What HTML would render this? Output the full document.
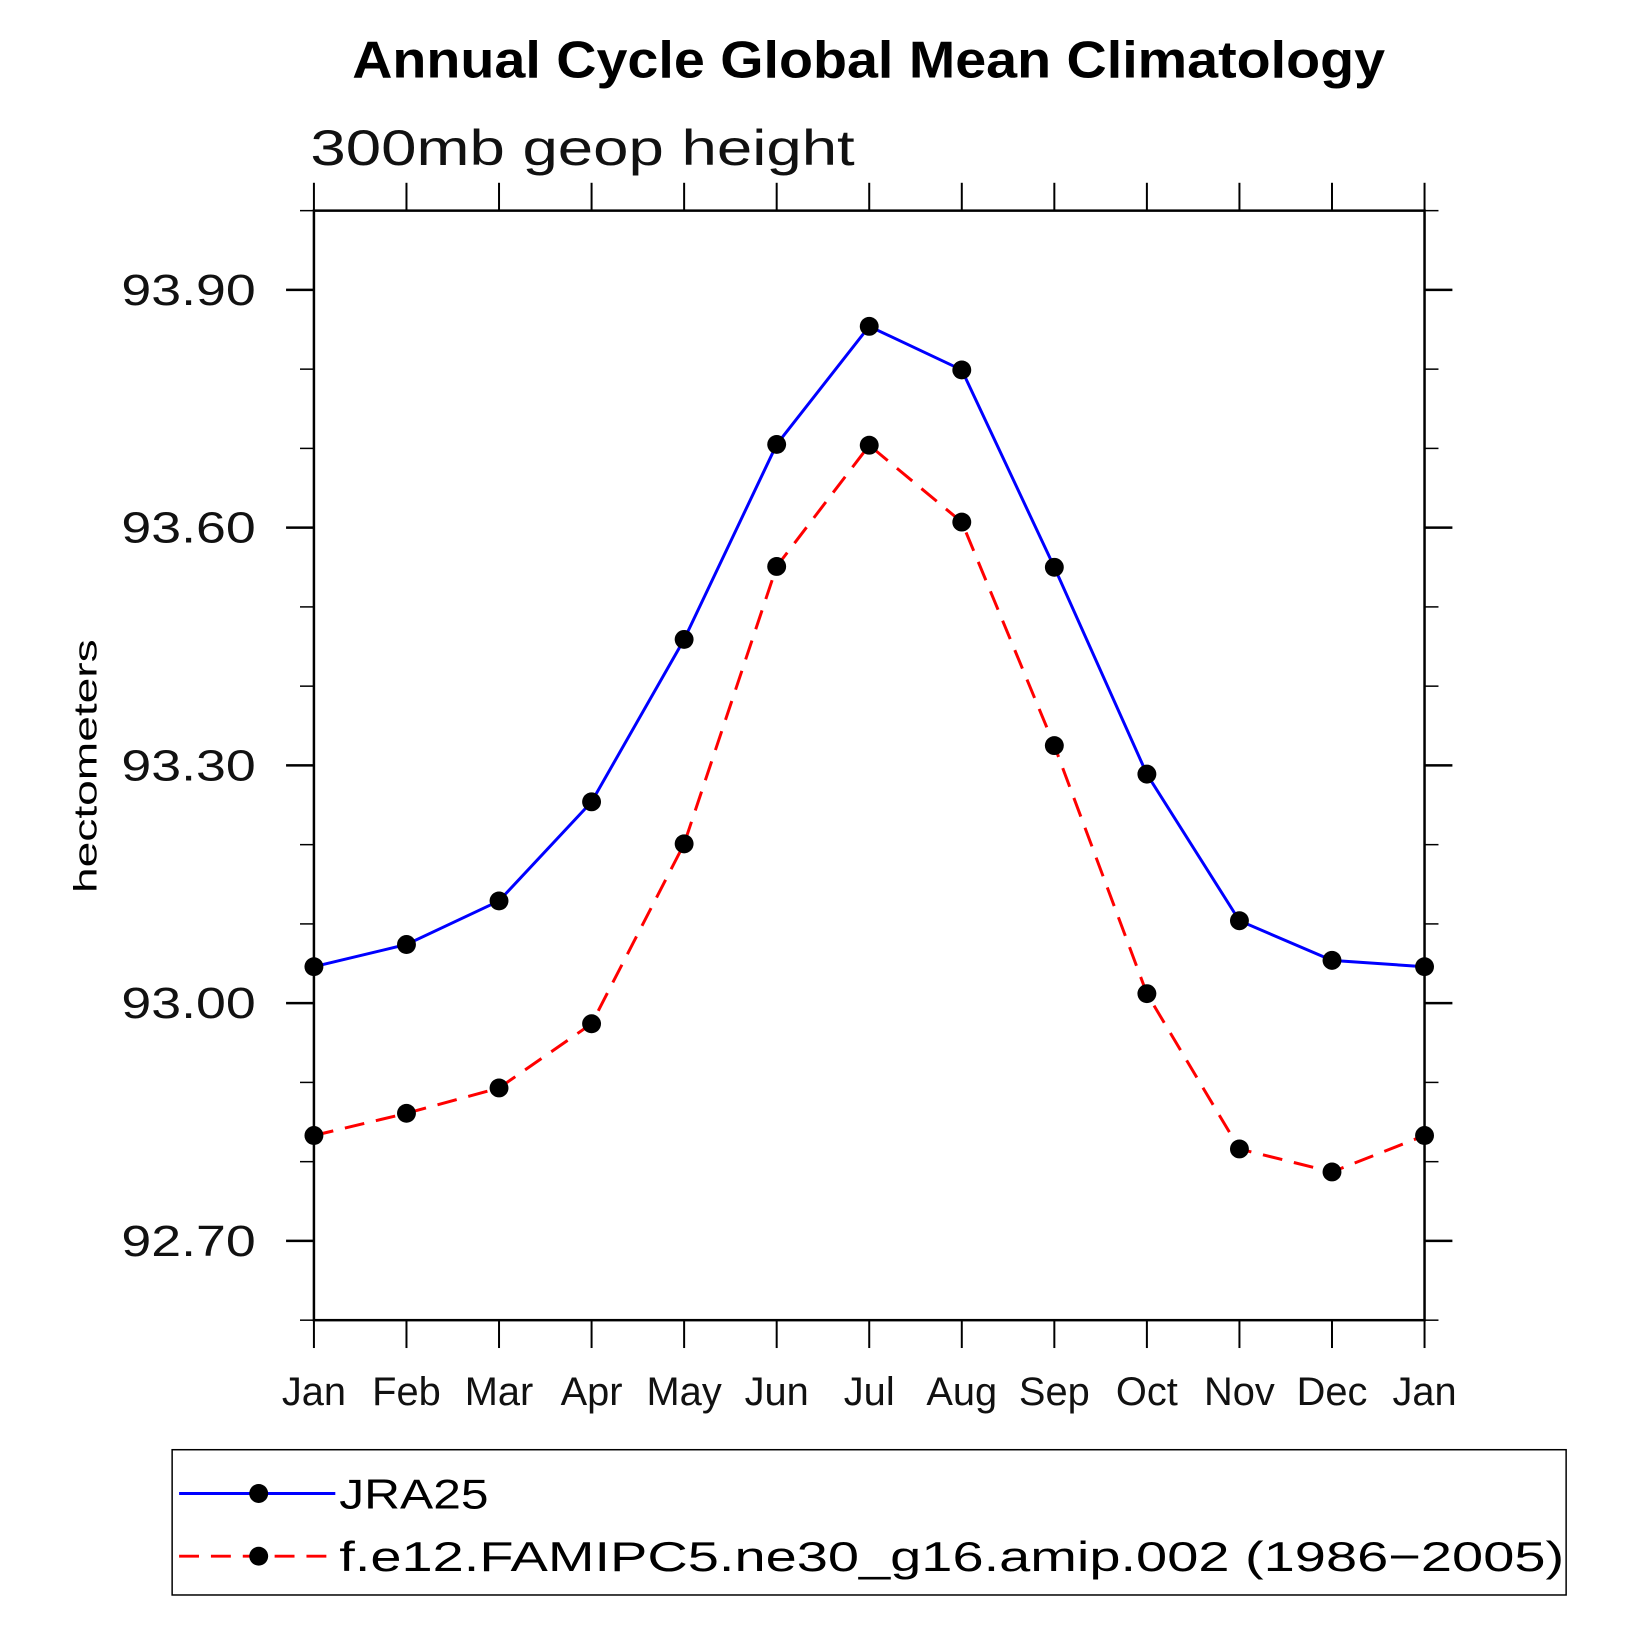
<!DOCTYPE html>
<html><head><meta charset="utf-8"><style>
html,body{margin:0;padding:0;background:#fff;}
svg{display:block;font-family:"Liberation Sans",sans-serif;}
</style></head><body>
<svg id="chart" width="1635" height="1635" viewBox="0 0 1635 1635">
<g transform="scale(0.995)">
<text x="873" y="78" text-anchor="middle" font-size="52" font-weight="bold" textLength="1038" lengthAdjust="spacingAndGlyphs">Annual Cycle Global Mean Climatology</text>
<text x="312" y="166" font-size="50" textLength="547" lengthAdjust="spacingAndGlyphs" fill="#111">300mb geop height</text>
<text transform="translate(97,770) rotate(-90)" text-anchor="middle" font-size="33" textLength="255" lengthAdjust="spacingAndGlyphs">hectometers</text>
<g id="axes"></g>
<g id="series"></g>
<rect x="173" y="1457" width="1401" height="146" fill="none" stroke="#000" stroke-width="1.5"/>
<g>
<line x1="180" y1="1501" x2="337" y2="1501" stroke="#0000ff" stroke-width="3"/>
<circle cx="260" cy="1501" r="9.5" fill="#000"/>
<text x="341" y="1516" font-size="42" textLength="150" lengthAdjust="spacingAndGlyphs">JRA25</text>
</g>
<g>
<line x1="180" y1="1564" x2="337" y2="1564" stroke="#ff0000" stroke-width="3" stroke-dasharray="20,12"/>
<circle cx="260" cy="1564" r="9.5" fill="#000"/>
<text x="341" y="1579" font-size="42" textLength="1231" lengthAdjust="spacingAndGlyphs">f.e12.FAMIPC5.ne30_g16.amip.002 (1986−2005)</text>
</g>
</g>
</svg>
<script>
const months = ["Jan","Feb","Mar","Apr","May","Jun","Jul","Aug","Sep","Oct","Nov","Dec","Jan"];
const jra25 = [93.046,93.074,93.129,93.254,93.459,93.705,93.854,93.799,93.550,93.289,93.104,93.054,93.046];
const model = [92.833,92.861,92.893,92.974,93.201,93.551,93.704,93.607,93.325,93.012,92.816,92.787,92.833];
const yTickValues = [92.7,93.0,93.3,93.6,93.9];
const yTickLabels = ["92.70","93.00","93.30","93.60","93.90"];
const yMinorValues = [92.6,92.8,92.9,93.1,93.2,93.4,93.5,93.7,93.8,94.0];

const L=315.5,R=1431.7,T=211.7,B=1326.8,YMIN=92.6,YMAX=94.0;
const NS="http://www.w3.org/2000/svg";
function xs(i){return L+(R-L)*i/(months.length-1);}
function ys(v){return B-(v-YMIN)/(YMAX-YMIN)*(B-T);}
function mk(tag,attrs,parent){const e=document.createElementNS(NS,tag);for(const k in attrs)e.setAttribute(k,attrs[k]);parent.appendChild(e);return e;}
const axes=document.getElementById('axes');
const frame=mk('rect',{x:L,y:T,width:R-L,height:B-T,fill:'none',stroke:'#000','stroke-width':2.5},axes);


yTickValues.forEach((v,i)=>{
  const y=ys(v);
  mk('line',{x1:L-28,y1:y,x2:L,y2:y,stroke:'#000','stroke-width':2.5},axes);
  mk('line',{x1:R,y1:y,x2:R+28,y2:y,stroke:'#000','stroke-width':2.5},axes);
  const t=mk('text',{x:257,y:y+15,'text-anchor':'end','font-size':44,textLength:135,lengthAdjust:'spacingAndGlyphs',fill:'#111'},axes);
  t.textContent=yTickLabels[i];
  
  
});
yMinorValues.forEach(v=>{
  const y=ys(v);
  mk('line',{x1:L-14,y1:y,x2:L,y2:y,stroke:'#000','stroke-width':1.5},axes);
  mk('line',{x1:R,y1:y,x2:R+14,y2:y,stroke:'#000','stroke-width':1.5},axes);
});
months.forEach((m,i)=>{
  const x=xs(i);
  mk('line',{x1:x,y1:T-28,x2:x,y2:T,stroke:'#000','stroke-width':2},axes);
  mk('line',{x1:x,y1:B,x2:x,y2:B+28,stroke:'#000','stroke-width':2},axes);
  const t=mk('text',{x:x,y:1412,'text-anchor':'middle','font-size':40,fill:'#111'},axes);
  t.textContent=m;
  
  
});
const series=document.getElementById('series');
function draw(vals,color,dash,name){
  const g=mk('g',{},series);
  
  
  const pts=vals.map((v,i)=>xs(i)+','+ys(v)).join(' ');
  const a={points:pts,fill:'none',stroke:color,'stroke-width':3};
  if(dash)a['stroke-dasharray']=dash;
  mk('polyline',a,g);
  vals.forEach((v,i)=>{
    const c=mk('circle',{cx:xs(i),cy:ys(v),r:9.5,fill:'#000'},g);
    
    
  });
}
draw(jra25,'#0000ff',null,'series-jra25');
draw(model,'#ff0000','20,12','series-model');
</script>
</body></html>
